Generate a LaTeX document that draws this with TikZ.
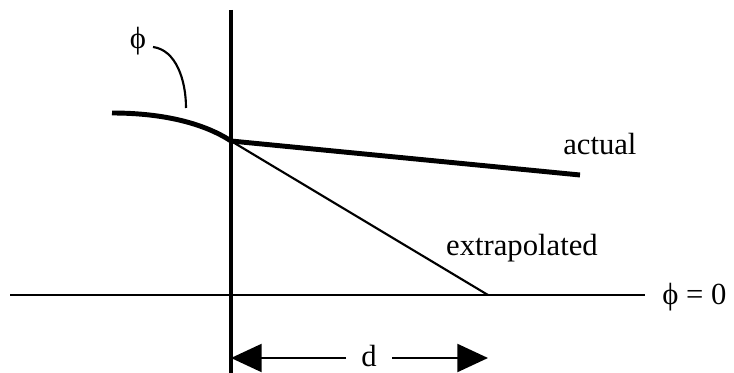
\documentclass[tikz,border=0pt]{standalone}
\usepackage{fontspec}
\setmainfont{Liberation Serif}
\usetikzlibrary{arrows.meta}

\tikzset{
  heavy/.style={line width=3.7pt},
  thin line/.style={line width=1.6pt},
  dimarrow/.style={line width=1.6pt,-{Triangle[length=23pt,width=21pt]}},
  lbl/.style={inner sep=0.75pt,font=\fontsize{23}{27}\selectfont}
}

\begin{document}
\begin{tikzpicture}[x=0.75pt,y=0.75pt,yscale=-1,xscale=1]
\useasboundingbox (0,0) rectangle (734,373);

%Wall and axis
\coordinate (wtop) at (231,10);
\coordinate (wbot) at (231,373);
\coordinate (axl) at (10,295);
\coordinate (axr) at (645,295);
\draw [heavy] (wtop) -- (wbot) ;
\draw [thin line] (axl) -- (axr) ;

%Flux curve
\coordinate (cstart) at (112,113);
\coordinate (wall) at (231,141);
\coordinate (actend) at (580,175);
\coordinate (zero) at (488,295);
\draw [heavy] (cstart) .. controls (165,113) and (205,124) .. (wall) ;
\draw [heavy] (wall) -- (actend) ;
\draw [thin line] (wall) -- (zero) ;

% Text Node
\node [lbl] (phi) at (138,41) {ϕ};
\draw [thin line] (153,47) coordinate (ldstart) .. controls (176,50) and (186,80) .. (186,108) coordinate (ldend) ;
% Text Node
\node [lbl,anchor=base west] (actual) at (562,155) {actual};
% Text Node
\node [lbl,anchor=base east] (extra) at (599,256) {extrapolated};
% Text Node
\node [lbl,anchor=base west] (phizero) at (661,305) {ϕ = 0};

%Distance d
\node [lbl,anchor=base] (d) at (369,366) {d};
\coordinate (dleft) at (231,358);
\coordinate (dright) at (488,358);
\draw [dimarrow] (346,358) -- (dleft) ;
\draw [dimarrow] (392,358) -- (dright) ;

\end{tikzpicture}
\end{document}
